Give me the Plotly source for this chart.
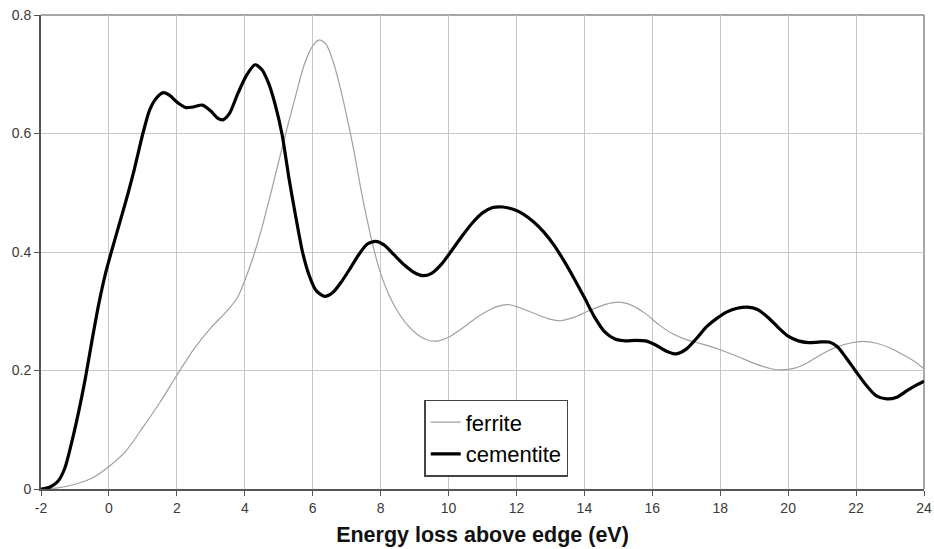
import plotly.graph_objects as go

# Energy loss (eV) and intensity readings for each phase
ferrite_x = [-2.0, -1.5, -1.0, -0.5, 0.0, 0.5, 1.0, 1.5, 2.0, 2.5, 3.0, 3.5, 3.8, 4.0, 4.25,
             4.5, 4.75, 5.0, 5.25, 5.5, 5.75, 6.0, 6.2, 6.4, 6.6, 6.8, 7.0, 7.2, 7.4, 7.6, 7.8,
             8.0, 8.25, 8.5, 8.8, 9.1, 9.4, 9.7, 10.0, 10.4, 10.8, 11.2, 11.5, 11.8, 12.1,
             12.5, 12.9, 13.3, 13.7, 14.1, 14.5, 14.8, 15.1, 15.4, 15.8, 16.2, 16.6, 17.0,
             17.5, 18.0, 18.5, 19.0, 19.5, 19.8, 20.2, 20.6, 21.0, 21.4, 21.8, 22.2, 22.6,
             23.0, 23.4, 23.8, 24.0]
ferrite_y = [0.0, 0.002, 0.008, 0.018, 0.038, 0.064, 0.104, 0.146, 0.192, 0.236, 0.272, 0.302,
             0.325, 0.352, 0.392, 0.440, 0.495, 0.553, 0.610, 0.664, 0.716, 0.748, 0.758, 0.750,
             0.722, 0.680, 0.630, 0.575, 0.512, 0.455, 0.405, 0.364, 0.327, 0.300, 0.276,
             0.260, 0.251, 0.250, 0.256, 0.271, 0.288, 0.302, 0.309, 0.311, 0.306, 0.297,
             0.288, 0.284, 0.290, 0.300, 0.309, 0.314, 0.315, 0.310, 0.296, 0.277, 0.262,
             0.252, 0.244, 0.235, 0.224, 0.212, 0.203, 0.201, 0.204, 0.214, 0.228, 0.239,
             0.246, 0.249, 0.246, 0.238, 0.226, 0.212, 0.203]

cementite_x = [-2.0, -1.75, -1.5, -1.3, -1.1, -0.9, -0.7, -0.5, -0.3, -0.1, 0.1, 0.3, 0.5,
               0.75, 1.0, 1.2, 1.4, 1.6, 1.8, 2.0, 2.25, 2.5, 2.75, 3.0, 3.2, 3.35, 3.55, 3.8,
               4.05, 4.3, 4.5, 4.7, 4.9, 5.1, 5.3, 5.5, 5.7, 5.9, 6.1, 6.35, 6.6, 6.85, 7.1,
               7.35, 7.6, 7.85, 8.1, 8.4, 8.7, 9.0, 9.25, 9.5, 9.8, 10.1, 10.4, 10.7, 11.0,
               11.3, 11.6, 11.9, 12.2, 12.5, 12.8, 13.1, 13.4, 13.7, 14.0, 14.3, 14.6, 14.9,
               15.2, 15.5, 15.8, 16.1, 16.4, 16.7, 17.0, 17.3, 17.6, 17.9, 18.2, 18.5, 18.8,
               19.1, 19.4, 19.7, 20.0, 20.3, 20.6, 20.9, 21.2, 21.45, 21.7, 22.0, 22.3, 22.6,
               22.9, 23.2, 23.5, 23.8, 24.0]
cementite_y = [0.0, 0.003, 0.013, 0.035, 0.078, 0.128, 0.185, 0.250, 0.312, 0.364, 0.406,
               0.446, 0.486, 0.540, 0.600, 0.640, 0.660, 0.669, 0.664, 0.653, 0.644, 0.645,
               0.648, 0.638, 0.626, 0.623, 0.634, 0.668, 0.698, 0.716, 0.708, 0.685, 0.648,
               0.598, 0.525, 0.460, 0.400, 0.360, 0.335, 0.325, 0.332, 0.350, 0.372, 0.395,
               0.413, 0.418, 0.412, 0.395, 0.378, 0.365, 0.360, 0.364, 0.380, 0.403, 0.427,
               0.449, 0.466, 0.475, 0.476, 0.472, 0.464, 0.451, 0.434, 0.412, 0.385, 0.355,
               0.323, 0.290, 0.265, 0.253, 0.250, 0.251, 0.250, 0.243, 0.233, 0.228, 0.236,
               0.254, 0.274, 0.288, 0.299, 0.305, 0.307, 0.303, 0.290, 0.273, 0.258, 0.250,
               0.247, 0.248, 0.248, 0.240, 0.222, 0.198, 0.175, 0.157, 0.152, 0.155, 0.166,
               0.176, 0.182]

x_ticks = list(range(-2, 25, 2))
y_ticks = [0, 0.2, 0.4, 0.6, 0.8]
y_tick_labels = ["0", "0.2", "0.4", "0.6", "0.8"]

fig = go.Figure()
fig.add_trace(go.Scatter(x=ferrite_x, y=ferrite_y, name="ferrite", mode="lines",
                         line=dict(color="#a0a0a0", width=1.2, shape="spline", smoothing=0.7)))
fig.add_trace(go.Scatter(x=cementite_x, y=cementite_y, name="cementite", mode="lines",
                         line=dict(color="#000000", width=3.2, shape="spline", smoothing=0.7)))

fig.update_layout(
    width=934, height=549,
    margin=dict(l=41, r=10, t=15, b=60),
    paper_bgcolor="white", plot_bgcolor="white",
    font=dict(family="Liberation Sans, Arial, sans-serif", color="#3a3a3a", size=14),
    showlegend=True,
    legend=dict(x=0.434, y=0.188, xanchor="left", yanchor="top",
                bgcolor="white", bordercolor="#444444", borderwidth=1.5,
                font=dict(size=22, color="#000000"), itemwidth=30,
                tracegroupgap=0),
)
fig.update_xaxes(
    range=[-2, 24], tickvals=x_ticks, ticktext=[str(v) for v in x_ticks],
    ticklabeloverflow="allow", automargin=False,
    showgrid=True, gridcolor="#c8c8c8", gridwidth=1,
    showline=True, linecolor="#555555", linewidth=2, mirror=False,
    ticks="outside", ticklen=5, tickcolor="#555555",
    zeroline=False,
    title=dict(text="<b>Energy loss above edge (eV)</b>",
               font=dict(size=21.5, color="#111111"), standoff=12),
)
fig.update_yaxes(
    range=[0, 0.8], tickvals=y_ticks, ticktext=y_tick_labels,
    automargin=False,
    showgrid=True, gridcolor="#c8c8c8", gridwidth=1,
    showline=True, linecolor="#555555", linewidth=2, mirror=False,
    ticks="outside", ticklen=5, tickcolor="#555555",
    zeroline=False,
)
# light frame along the top and right of the plotting area
fig.add_shape(type="line", xref="paper", yref="paper", x0=0, x1=1, y0=1, y1=1,
              line=dict(color="#8a8a8a", width=1.5), layer="below")
fig.add_shape(type="line", xref="paper", yref="paper", x0=1, x1=1, y0=0, y1=1,
              line=dict(color="#8a8a8a", width=1.5), layer="below")

fig.write_html("out.html")
